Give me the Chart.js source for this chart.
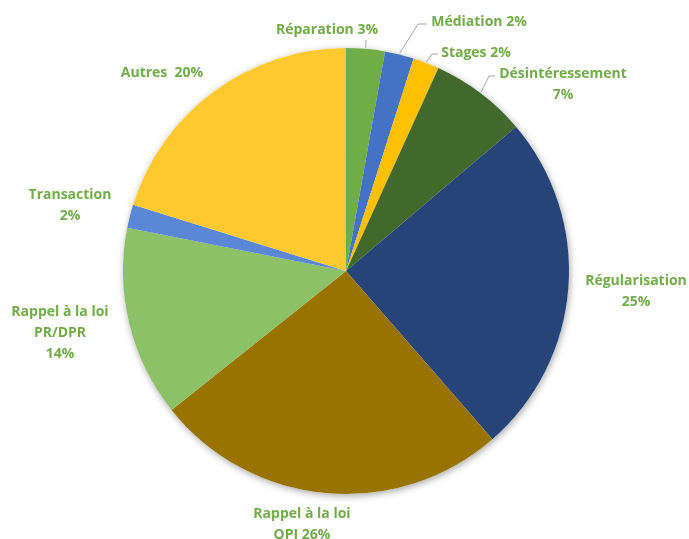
<!DOCTYPE html>
<html>
<head>
<meta charset="utf-8">
<script src="https://cdn.jsdelivr.net/npm/chart.js@4"></script>
<style>
  html, body { margin: 0; padding: 0; background: #fff; }
  #wrap { width: 689px; height: 539px; position: relative; }
</style>
</head>
<body>
<div id="wrap"><canvas id="chart"></canvas></div>
<script>
// ===== DATA =====
const categories = ['Réparation', 'Médiation', 'Stages', 'Désintéressement', 'Régularisation',
  'Rappel à la loi OPJ', 'Rappel à la loi PR/DPR', 'Transaction', 'Autres'];
const shares = [2.8, 2.1, 1.9, 7.0, 24.8, 25.7, 13.8, 1.7, 20.2];
const percentLabels = ['3%', '2%', '2%', '7%', '25%', '26%', '14%', '2%', '20%'];
const colors = ['#70ad47', '#4472c4', '#ffc000', '#43682b', '#264478',
  '#997300', '#8cc168', '#5a87d6', '#fdc92f'];

// label layout: text lines, center of first line, optional leader elbow
const labelLayout = [
  { lines: ['Réparation 3%'], x: 327, y: 30, elbow: [366, 40], end: [366, 40] },
  { lines: ['Médiation 2%'], x: 479, y: 22, elbow: [418, 24], end: [427, 24] },
  { lines: ['Stages 2%'], x: 476, y: 53, elbow: [432, 54], end: [438, 54] },
  { lines: ['Désintéressement', '7%'], x: 563, y: 74, elbow: [489, 76], end: [495, 76] },
  { lines: ['Régularisation', '25%'], x: 636, y: 281 },
  { lines: ['Rappel à la loi', 'OPJ 26%'], x: 302, y: 514 },
  { lines: ['Rappel à la loi', 'PR/DPR', '14%'], x: 60, y: 312 },
  { lines: ['Transaction', '2%'], x: 70, y: 195 },
  { lines: ['Autres  20%'], x: 162, y: 73 }
];

// ===== PLUGINS =====
const shadowPlugin = {
  id: 'pieShadow',
  beforeDatasetsDraw(chart) {
    const arc = chart.getDatasetMeta(0).data[0];
    if (!arc) return;
    const ctx = chart.ctx;
    ctx.save();
    ctx.shadowColor = 'rgba(0,0,0,0.35)';
    ctx.shadowBlur = 7;
    ctx.shadowOffsetX = 1;
    ctx.shadowOffsetY = 2;
    ctx.fillStyle = '#ffffff';
    ctx.beginPath();
    ctx.arc(arc.x, arc.y, arc.outerRadius, 0, Math.PI * 2);
    ctx.fill();
    ctx.restore();
  }
};

const labelPlugin = {
  id: 'sliceLabels',
  afterDatasetsDraw(chart) {
    const ctx = chart.ctx;
    const arcs = chart.getDatasetMeta(0).data;
    ctx.save();
    ctx.font = 'bold 14px "Open Sans", Lato, sans-serif';
    ctx.textAlign = 'center';
    ctx.textBaseline = 'middle';
    arcs.forEach((arc, i) => {
      const lay = labelLayout[i];
      if (lay.elbow) {
        const mid = (arc.startAngle + arc.endAngle) / 2;
        const ax = arc.x + Math.cos(mid) * (arc.outerRadius + 1);
        const ay = arc.y + Math.sin(mid) * (arc.outerRadius + 1);
        ctx.strokeStyle = '#a6a6a6';
        ctx.lineWidth = 1;
        ctx.beginPath();
        ctx.moveTo(ax, ay);
        ctx.lineTo(lay.elbow[0], lay.elbow[1]);
        ctx.lineTo(lay.end[0], lay.end[1]);
        ctx.stroke();
      }
      ctx.fillStyle = '#70ad47';
      lay.lines.forEach((t, k) => ctx.fillText(t, lay.x, lay.y + k * 21));
    });
    ctx.restore();
  }
};

// ===== CHART =====
new Chart(document.getElementById('chart'), {
  type: 'pie',
  data: {
    labels: categories,
    datasets: [{
      data: shares,
      backgroundColor: colors,
      borderWidth: 0
    }]
  },
  options: {
    responsive: true,
    maintainAspectRatio: false,
    animation: false,
    layout: { padding: { left: 123, right: 120, top: 48, bottom: 45 } },
    plugins: {
      legend: { display: false },
      tooltip: { enabled: false }
    }
  },
  plugins: [shadowPlugin, labelPlugin]
});
</script>
</body>
</html>
